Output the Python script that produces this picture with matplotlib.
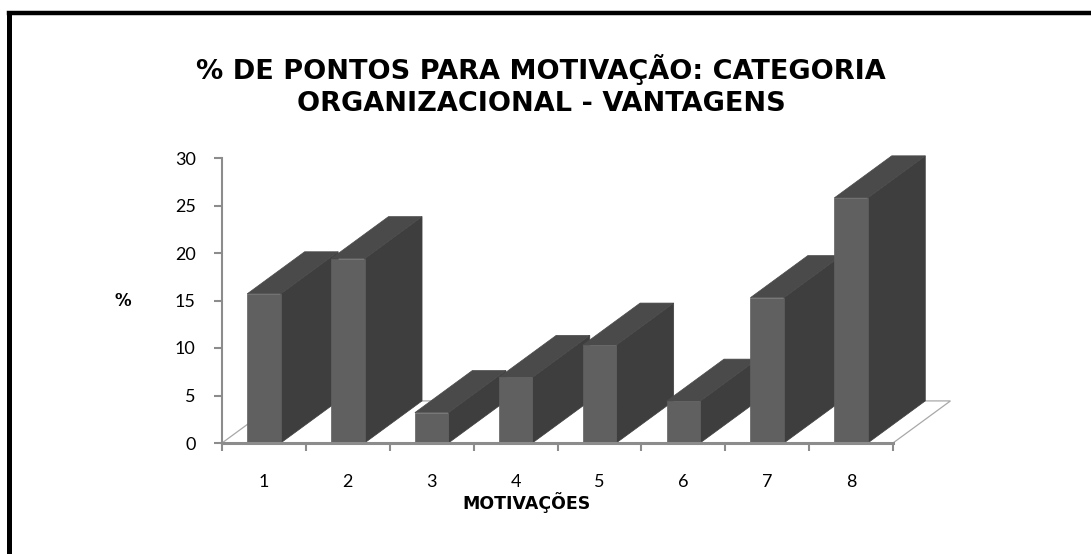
import matplotlib
matplotlib.use("Agg")
import matplotlib.pyplot as plt
from matplotlib.patches import Polygon
import numpy as np

# ---- data ----
categories = ["1", "2", "3", "4", "5", "6", "7", "8"]
values = [15.7, 19.4, 3.2, 6.9, 10.3, 4.4, 15.3, 25.8]
yticks = [0, 5, 10, 15, 20, 25, 30]
title = "% DE PONTOS PARA MOTIVAÇÃO: CATEGORIA\nORGANIZACIONAL - VANTAGENS"
xlabel = "MOTIVAÇÕES"
ylabel = "%"

# ---- style ----
FRONT = "#606060"
SIDE = "#3e3e3e"
TOP = "#4a4a4a"
AXIS = "#8c8c8c"
FLOOR = "#a8a8a8"
bar_w = 0.40
depth_x = 0.685   # depth offset in category units
depth_y = 4.43    # depth offset in value units

W, H = 1091, 554
fig = plt.figure(figsize=(W / 100, H / 100), dpi=100)
fig.patch.set_facecolor("white")

# plot area in pixels: x 222..893, y 443 (0) .. 158 (30)
left, right, bottom, top = 222, 893, 443, 158
ax = fig.add_axes([left / W, (H - bottom) / H, (right - left) / W, (bottom - top) / H])
ax.set_xlim(0.5, len(categories) + 0.5)
ax.set_ylim(0, 30)
ax.patch.set_alpha(0)

# floor
n = len(categories)
floor = Polygon([(0.5, 0), (n + 0.5, 0), (n + 0.5 + depth_x, depth_y), (0.5 + depth_x, depth_y)],
                closed=True, facecolor="none", edgecolor=FLOOR, linewidth=0.9,
                clip_on=False, zorder=1)
ax.add_patch(floor)

x = np.arange(1, n + 1)
for i, (xi, v) in enumerate(zip(x, values)):
    x0, x1 = xi - bar_w / 2, xi + bar_w / 2
    z = 10 + i * 3
    side = Polygon([(x1, 0), (x1 + depth_x, depth_y), (x1 + depth_x, v + depth_y), (x1, v)],
                   closed=True, facecolor=SIDE, edgecolor=SIDE, linewidth=0.5,
                   clip_on=False, zorder=z)
    topf = Polygon([(x0, v), (x1, v), (x1 + depth_x, v + depth_y), (x0 + depth_x, v + depth_y)],
                   closed=True, facecolor=TOP, edgecolor=TOP, linewidth=0.5,
                   clip_on=False, zorder=z)
    ax.add_patch(side)
    ax.add_patch(topf)
    ax.bar([xi], [v], width=bar_w, color=FRONT, edgecolor=FRONT, linewidth=0.5,
           zorder=z + 1, clip_on=False)

# axes
for s in ["top", "right"]:
    ax.spines[s].set_visible(False)
ax.spines["left"].set_color(AXIS)
ax.spines["left"].set_linewidth(1.5)
ax.spines["bottom"].set_color(AXIS)
ax.spines["bottom"].set_linewidth(2.2)
ax.spines["bottom"].set_zorder(50)

ax.set_yticks(yticks)
ax.set_yticklabels([str(t) for t in yticks], fontfamily="Lato", fontsize=13)
ax.set_xticks(np.arange(0.5, n + 1.5, 1))
ax.set_xticklabels([])
ax.set_xticks(x, minor=True)
ax.set_xticklabels(categories, minor=True, fontfamily="Lato", fontsize=13)
ax.tick_params(axis="y", length=6, width=1.5, color=AXIS, pad=13)
ax.tick_params(axis="x", which="major", length=6, width=1.5, color=AXIS, direction="out")
ax.tick_params(axis="x", which="minor", length=0, pad=22)

ax.set_xlabel(xlabel, fontfamily="DejaVu Sans", fontweight="bold", fontsize=12.5)
ax.xaxis.set_label_coords((527 - left) / (right - left), -(503 - bottom) / (bottom - top))
ax.set_ylabel(ylabel, fontfamily="DejaVu Sans", fontweight="bold", fontsize=12, rotation=0)
ax.yaxis.set_label_coords((123 - left) / (right - left), (bottom - 301) / (bottom - top))
ax.xaxis.label.set_va("center")
ax.yaxis.label.set_va("center")

fig.text(541 / W, 1 - 86 / H, title, ha="center", va="center", fontfamily="DejaVu Sans",
         fontweight="bold", fontsize=19.5, linespacing=1.3)

# frame (left and top edges)
fig.add_artist(plt.Line2D([8.5 / W, 8.5 / W], [0, 1 - 13 / H], transform=fig.transFigure,
                          color="black", linewidth=3.6, solid_capstyle="projecting"))
fig.add_artist(plt.Line2D([8.5 / W, 1], [1 - 13 / H, 1 - 13 / H], transform=fig.transFigure,
                          color="black", linewidth=3.2, solid_capstyle="projecting"))

fig.savefig("out.png", dpi=100)
